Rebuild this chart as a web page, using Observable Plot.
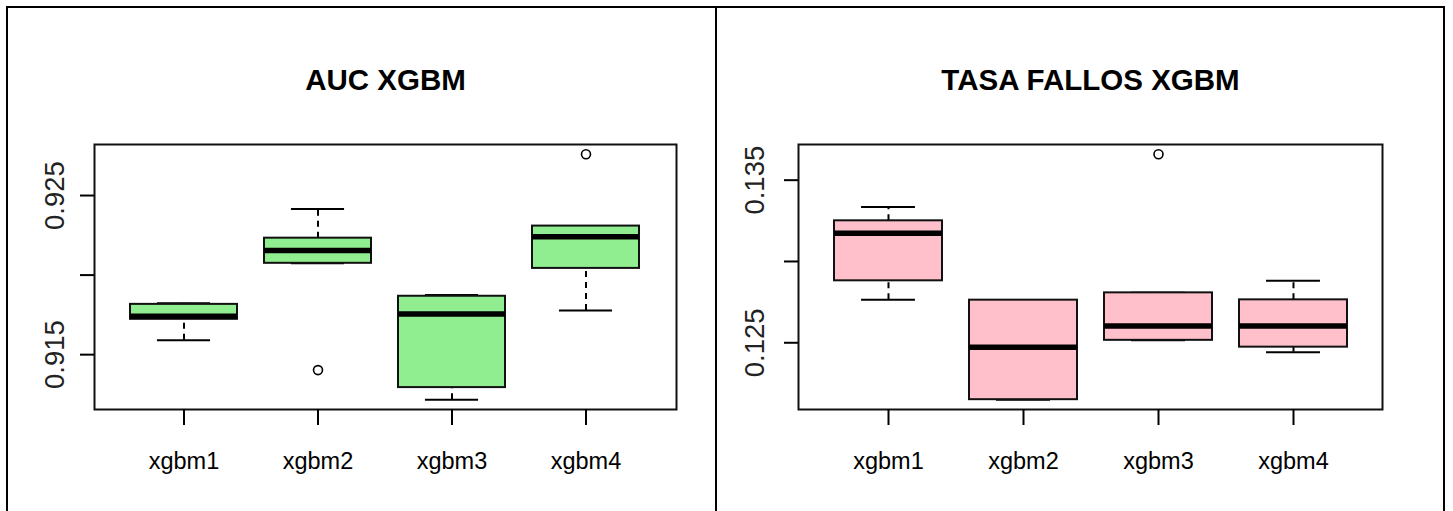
<!DOCTYPE html>
<html><head><meta charset="utf-8">
<script src="https://cdn.jsdelivr.net/npm/d3@7"></script>
<script src="https://cdn.jsdelivr.net/npm/@observablehq/plot@0.6"></script>
<style>
html,body{margin:0;padding:0;background:#fff;width:1453px;height:511px;overflow:hidden;font-family:"Liberation Sans",Arial,sans-serif}
#outer{position:absolute;left:6px;top:6px;width:1435px;height:520px;border:2px solid #000;border-bottom:none}
#divider{position:absolute;left:715px;top:6px;width:2px;height:520px;background:#000}
#left{position:absolute;left:8px;top:8px}
#right{position:absolute;left:717px;top:8px}
</style></head><body>
<div id="outer"></div><div id="divider"></div>
<div id="left"></div><div id="right"></div>
<script>
// ---------- data ----------
const models = ["xgbm1", "xgbm2", "xgbm3", "xgbm4"];

// AUC XGBM
const aucLowerWhisker = [0.91590, 0.92074, 0.91217, 0.91778];
const aucQ1           = [0.91722, 0.92074, 0.91293, 0.92042];
const aucMedian       = [0.91741, 0.92154, 0.91755, 0.92241];
const aucQ3           = [0.91816, 0.92232, 0.91867, 0.92308];
const aucUpperWhisker = [0.91823, 0.92416, 0.91875, 0.92308];
const aucOutlierModels = ["xgbm2", "xgbm4"];
const aucOutlierValues = [0.91403, 0.92759];
const aucTicks = [0.915, 0.920, 0.925];
const aucTickLabels = ["0.915", "", "0.925"];

// TASA FALLOS XGBM
const errLowerWhisker = [0.12764, 0.12150, 0.12515, 0.12442];
const errQ1           = [0.12881, 0.12150, 0.12515, 0.12473];
const errMedian       = [0.13174, 0.12473, 0.12603, 0.12603];
const errQ3           = [0.13250, 0.12762, 0.12807, 0.12764];
const errUpperWhisker = [0.13335, 0.12762, 0.12807, 0.12881];
const errOutlierModels = ["xgbm3"];
const errOutlierValues = [0.13659];
const errTicks = [0.125, 0.130, 0.135];
const errTickLabels = ["0.125", "", "0.135"];

// ---------- drawing ----------
function boxPanel(o) {
  const rows = models.map((m, i) => ({model: m, lw: o.lw[i], q1: o.q1[i], med: o.med[i], q3: o.q3[i], uw: o.uw[i]}));
  const outliers = o.outModels.map((m, i) => ({model: m, value: o.outValues[i]}));
  const all = [...o.lw, ...o.uw, ...o.outValues];
  const lo = d3.min(all), hi = d3.max(all), r = hi - lo;
  const frameW = o.width - o.marginLeft - o.marginRight;
  const pIn = 0.2, pOut = 0.26;
  const step = frameW / (models.length - pIn + 2 * pOut);
  const capInset = step * (1 - pIn) / 4;
  const sw = 2;
  return Plot.plot({
    width: o.width, height: 503,
    marginLeft: o.marginLeft, marginRight: o.marginRight, marginTop: 136, marginBottom: 102,
    style: {fontFamily: '"Liberation Sans", Arial, sans-serif', color: "black", background: "transparent", overflow: "visible"},
    x: {type: "band", domain: models, paddingInner: pIn, paddingOuter: pOut, align: 0.5, label: null},
    y: {domain: [lo - 0.04 * r, hi + 0.04 * r], label: null},
    marks: [
      Plot.ruleX(rows, {x: "model", y1: "q3", y2: "uw", stroke: "black", strokeWidth: sw, strokeDasharray: "6,5"}),
      Plot.ruleX(rows, {x: "model", y1: "lw", y2: "q1", stroke: "black", strokeWidth: sw, strokeDasharray: "6,5"}),
      Plot.tickY(rows, {x: "model", y: "uw", stroke: "black", strokeWidth: sw, insetLeft: capInset, insetRight: capInset}),
      Plot.tickY(rows, {x: "model", y: "lw", stroke: "black", strokeWidth: sw, insetLeft: capInset, insetRight: capInset}),
      Plot.barY(rows, {x: "model", y1: "q1", y2: "q3", fill: o.fill, stroke: "#111", strokeWidth: sw}),
      Plot.tickY(rows, {x: "model", y: "med", stroke: "black", strokeWidth: 5.5}),
      Plot.dot(outliers, {x: "model", y: "value", r: 4.5, stroke: "black", strokeWidth: 1.6, fill: "none"}),
      Plot.frame({stroke: "#111", strokeWidth: sw}),
      Plot.axisX({tickSize: 16, tickPadding: 27, fontSize: 23.5, strokeWidth: sw, label: null}),
      Plot.axisY(o.ticks, {tickSize: 14, tickFormat: () => "", strokeWidth: sw, label: null}),
      Plot.text(o.ticks, {y: d => d, text: (d, i) => o.tickLabels[i], frameAnchor: "left", dx: o.labelDx, rotate: -90,
        textAnchor: "middle", lineAnchor: "bottom", fontSize: 27.5, fill: "#222"}),
      Plot.text([o.title], {frameAnchor: "top", dy: -55, lineAnchor: "bottom", fontSize: 29.5, fontWeight: "bold", fill: "black"})
    ]
  });
}

document.getElementById("left").append(boxPanel({
  title: "AUC XGBM", lw: aucLowerWhisker, q1: aucQ1, med: aucMedian, q3: aucQ3, uw: aucUpperWhisker,
  outModels: aucOutlierModels, outValues: aucOutlierValues, ticks: aucTicks, tickLabels: aucTickLabels,
  fill: "lightgreen", width: 707, marginLeft: 86, marginRight: 39, labelDx: -31
}));
document.getElementById("right").append(boxPanel({
  title: "TASA FALLOS XGBM", lw: errLowerWhisker, q1: errQ1, med: errMedian, q3: errQ3, uw: errUpperWhisker,
  outModels: errOutlierModels, outValues: errOutlierValues, ticks: errTicks, tickLabels: errTickLabels,
  fill: "pink", width: 726, marginLeft: 81, marginRight: 61, labelDx: -35
}));
</script>
</body></html>
